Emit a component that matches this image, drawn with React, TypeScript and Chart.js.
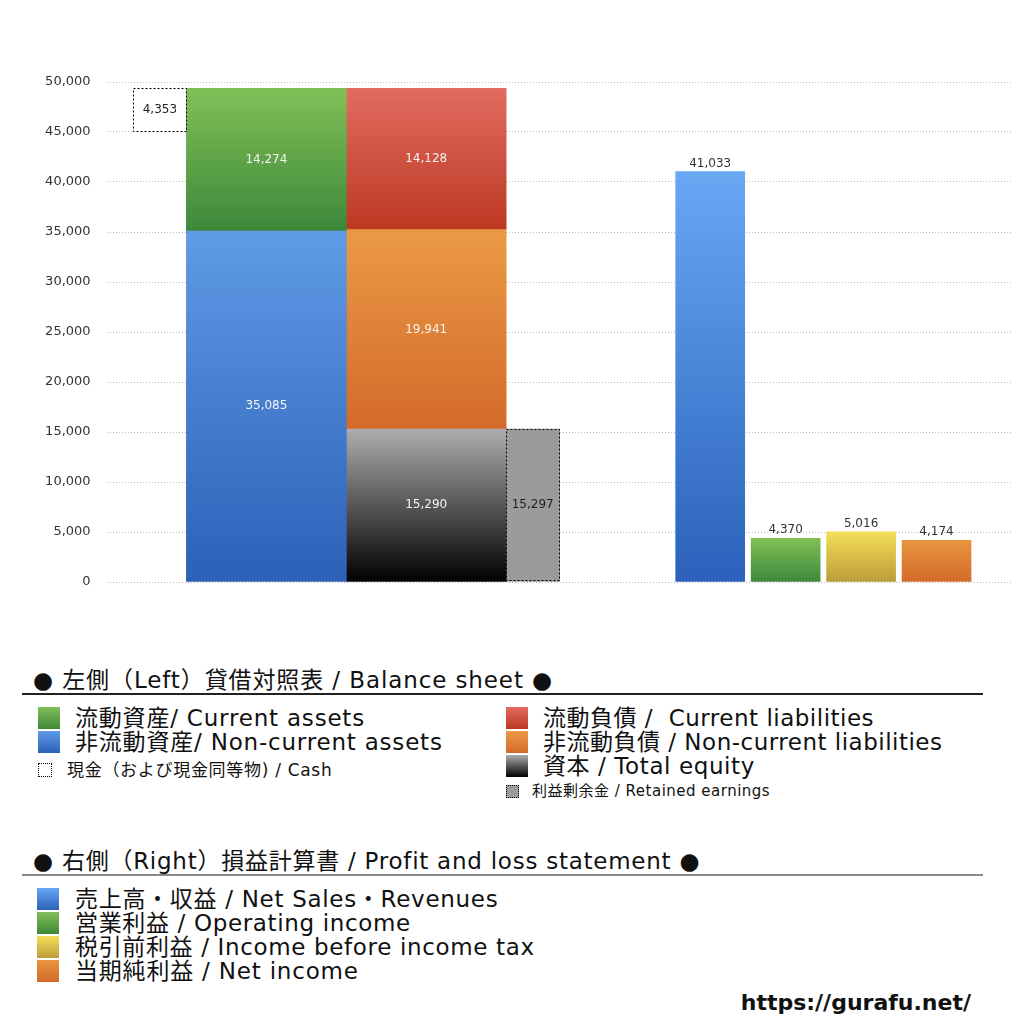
import React, { useEffect, useRef } from 'react';
import { Chart, registerables } from 'chart.js';

Chart.register(...registerables);

// 貸借対照表 (left side)
const assetNames = ['非流動資産', '流動資産'];
const assetValues = [35085, 14274];
const claimNames = ['資本', '非流動負債', '流動負債'];
const claimValues = [15290, 19941, 14128];
const cashValue = 4353;
const retainedValue = 15297;

// 損益計算書 (right side)
const plNames = ['売上高・収益', '営業利益', '税引前利益', '当期純利益'];
const plValues = [41033, 4370, 5016, 4174];

// hidden category slots the bars sit on
const bsSlots = ['', '現金', '', '資産', '', '', '負債・純資産', '', '利益剰余金', '', '', '', '', '', '', '', '', ''];
const plSlots = ['', '', '', '', '', '', '', '', ...plNames, ''];

const assetColors = [['#5f9be6', '#2d60b8'], ['#82c057', '#3c883a']];
const claimColors = [['#adadad', '#000000'], ['#eb9a45', '#d46a2a'], ['#e26c60', '#bc3822']];
const plColors = [['#68a8f3', '#2b61bb'], ['#82c057', '#3c883a'], ['#f5df57', '#bb9c3a'], ['#e8953f', '#d36a2b']];

const FONT = '"DejaVu Sans", "Noto Sans CJK JP", sans-serif';
const fmt = (v: number) => v.toLocaleString('en-US');

function ranges(values: number[]) {
    let acc = 0;
    return values.map(v => {
        const r = [acc, acc + v];
        acc += v;
        return r;
    });
}

function vGrad(chart: any, from: number, to: number, colors: string[]) {
    const {ctx, chartArea, scales} = chart;
    if (!chartArea) return colors[1];
    const g = ctx.createLinearGradient(0, scales.y.getPixelForValue(to), 0, scales.y.getPixelForValue(from));
    g.addColorStop(0, colors[0]);
    g.addColorStop(1, colors[1]);
    return g;
}

const dashedBorders = {
    id: 'dashedBorders',
    afterDatasetsDraw(chart: any) {
        const {ctx} = chart;
        chart.data.datasets.forEach((ds: any, di: number) => {
            if (!ds.dashed) return;
            chart.getDatasetMeta(di).data.forEach((el: any) => {
                const {x, y, base, width} = el.getProps(['x', 'y', 'base', 'width'], true);
                ctx.save();
                ctx.strokeStyle = '#000';
                ctx.lineWidth = 1;
                ctx.setLineDash([2, 2]);
                const l = Math.round(x - width / 2) + 0.5;
                const t = Math.round(y) + 0.5;
                ctx.strokeRect(l, t, Math.round(width) - 1, Math.round(base - y) - 1);
                ctx.restore();
            });
        });
    },
};

const valueLabels = {
    id: 'valueLabels',
    afterDatasetsDraw(chart: any) {
        const {ctx} = chart;
        chart.data.datasets.forEach((ds: any, di: number) => {
            chart.getDatasetMeta(di).data.forEach((el: any, i: number) => {
                const {x, y, base} = el.getProps(['x', 'y', 'base'], true);
                const raw = ds.data[i].y;
                const v = Array.isArray(raw) ? raw[1] - raw[0] : raw;
                ctx.save();
                ctx.font = '12px ' + FONT;
                ctx.textAlign = 'center';
                if (ds.labelAbove) {
                    ctx.textBaseline = 'bottom';
                    ctx.fillStyle = '#333';
                    ctx.fillText(fmt(v), x, y - 2);
                } else {
                    ctx.textBaseline = 'middle';
                    ctx.fillStyle = ds.labelColor;
                    ctx.fillText(fmt(v), x, (y + base) / 2);
                }
                ctx.restore();
            });
        });
    },
};

const BalanceChart: React.FC = () => {
    const canvasRef = useRef<HTMLCanvasElement>(null);

    useEffect(() => {
        if (!canvasRef.current) return;
        const ctx = canvasRef.current.getContext('2d');
        if (!ctx) return;

        const assetRanges = ranges(assetValues);
        const claimRanges = ranges(claimValues);
        const assetTotal = assetValues.reduce((a, b) => a + b, 0);

        const datasets: any[] = [
            ...assetNames.map((name, i) => ({
                label: name,
                xAxisID: 'xL',
                data: [{x: '資産', y: assetRanges[i]}],
                barThickness: 160,
                grouped: false,
                labelColor: '#f4f4f4',
                backgroundColor: (c: any) => vGrad(c.chart, assetRanges[i][0], assetRanges[i][1], assetColors[i]),
            })),
            ...claimNames.map((name, i) => ({
                label: name,
                xAxisID: 'xL',
                data: [{x: '負債・純資産', y: claimRanges[i]}],
                barThickness: 160,
                grouped: false,
                labelColor: '#f4f4f4',
                backgroundColor: (c: any) => vGrad(c.chart, claimRanges[i][0], claimRanges[i][1], claimColors[i]),
            })),
            {
                label: '現金',
                xAxisID: 'xL',
                data: [{x: '現金', y: [assetTotal - cashValue, assetTotal]}],
                barThickness: 54,
                grouped: false,
                dashed: true,
                labelColor: '#222',
                backgroundColor: '#ffffff',
            },
            {
                label: '利益剰余金',
                xAxisID: 'xL',
                data: [{x: '利益剰余金', y: [0, retainedValue]}],
                barThickness: 54,
                grouped: false,
                dashed: true,
                labelColor: '#222',
                backgroundColor: '#9b9b9b',
            },
            {
                label: '損益計算書',
                xAxisID: 'xR',
                data: plNames.map((n, i) => ({x: n, y: plValues[i]})),
                barThickness: 69,
                grouped: false,
                labelAbove: true,
                backgroundColor: (c: any) => vGrad(c.chart, 0, plValues[c.dataIndex], plColors[c.dataIndex]),
            },
        ];

        const chart = new Chart(ctx, {
            type: 'bar',
            data: {datasets},
            options: {
                animation: false,
                responsive: false,
                layout: {padding: {top: 74, right: 4, bottom: 46, left: 0}},
                plugins: {
                    legend: {display: false},
                    tooltip: {enabled: false},
                },
                scales: {
                    xL: {type: 'category', labels: bsSlots, offset: false, display: false},
                    xR: {type: 'category', labels: plSlots, offset: false, display: false},
                    y: {
                        min: 0,
                        max: 50000,
                        afterFit: (scale: any) => { scale.width = 98.6; },
                        ticks: {
                            stepSize: 5000,
                            padding: 16,
                            color: '#333',
                            font: {family: FONT, size: 13},
                            callback: (v: any) => fmt(Number(v)),
                        },
                        grid: {color: '#bdbdbd', lineWidth: 1, drawTicks: false},
                        border: {display: false, dash: [1, 2]},
                    },
                },
            },
            plugins: [dashedBorders, valueLabels],
        });

        return () => {
            chart.destroy();
        };
    }, []);

    return <canvas ref={canvasRef} width={1008} height={620} style={{position: 'absolute', left: 0, top: 0}}></canvas>;
};

const Swatch: React.FC<{left: number; top: number; colors?: string[]; size?: number; dotted?: boolean; fill?: string}> = ({left, top, colors, size = 22, dotted, fill}) => (
    <div style={{
        position: 'absolute', left, top, width: size, height: size, boxSizing: 'border-box',
        background: colors ? `linear-gradient(${colors[0]}, ${colors[1]})` : (fill || '#fff'),
        border: dotted ? '1px dotted #000' : undefined,
    }}/>
);

const Text: React.FC<{left?: number; right?: number; center: number; size: number; bold?: boolean; spacing?: number; children: React.ReactNode}> = ({left, right, center, size, bold, spacing = 0, children}) => (
    <div style={{
        position: 'absolute', left, right, top: center - 15, height: 30, lineHeight: '30px',
        fontSize: size, fontWeight: bold ? 700 : 400, whiteSpace: 'pre', letterSpacing: spacing,
    }}>{children}</div>
);

const App: React.FC = () => {
    return (
        <div style={{position: 'relative', width: 1008, height: 1008, fontFamily: FONT, color: '#111'}}>
            <BalanceChart/>

            <Text left={25} center={672} size={23} spacing={0.9}>● 左側（Left）貸借対照表 / Balance sheet ●</Text>
            <div style={{position: 'absolute', left: 14, top: 685, width: 961, height: 1.5, background: '#222'}}/>

            <Swatch left={30} top={699} colors={assetColors[1]}/>
            <Text left={67} center={710} size={23} spacing={0.8}>流動資産/ Current assets</Text>
            <Swatch left={30} top={723} colors={assetColors[0]}/>
            <Text left={67} center={734} size={23} spacing={0.8}>非流動資産/ Non-current assets</Text>
            <Swatch left={30} top={755} size={14} dotted/>
            <Text left={59} center={762} size={17} spacing={0.7}>現金（および現金同等物) / Cash</Text>

            <Swatch left={498} top={699} colors={claimColors[2]}/>
            <Text left={535} center={710} size={23} spacing={0.5}>流動負債 /  Current liabilities</Text>
            <Swatch left={498} top={723} colors={claimColors[1]}/>
            <Text left={535} center={734} size={23} spacing={0.5}>非流動負債 / Non-current liabilities</Text>
            <Swatch left={498} top={747} colors={claimColors[0]}/>
            <Text left={535} center={758} size={23} spacing={0.6}>資本 / Total equity</Text>
            <Swatch left={498} top={777} size={13} dotted fill="#9b9b9b"/>
            <Text left={524} center={783} size={15} spacing={0.5}>利益剰余金 / Retained earnings</Text>

            <Text left={25} center={853} size={23} spacing={0.75}>● 右側（Right）損益計算書 / Profit and loss statement ●</Text>
            <div style={{position: 'absolute', left: 14, top: 866, width: 961, height: 2, background: '#888'}}/>

            <Swatch left={29} top={880} colors={plColors[0]}/>
            <Text left={67} center={891} size={23} spacing={0.7}>売上高・収益 / Net Sales・Revenues</Text>
            <Swatch left={29} top={904} colors={plColors[1]}/>
            <Text left={67} center={915} size={23} spacing={0.65}>営業利益 / Operating income</Text>
            <Swatch left={29} top={928} colors={plColors[2]}/>
            <Text left={67} center={939} size={23} spacing={0.65}>税引前利益 / Income before income tax</Text>
            <Swatch left={29} top={952} colors={plColors[3]}/>
            <Text left={67} center={963} size={23} spacing={0.8}>当期純利益 / Net income</Text>

            <Text right={45} center={995} size={22} bold>https://gurafu.net/</Text>
        </div>
    );
};

export default App;
